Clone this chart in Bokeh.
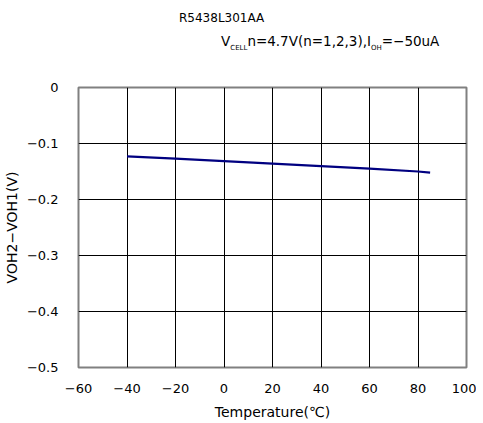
from bokeh.plotting import figure
from bokeh.models import Range1d, FixedTicker, Div
from bokeh.layouts import column
from bokeh.embed import file_html
from bokeh.resources import INLINE

# data
temperature = [-40, -20, 0, 20, 40, 60, 80, 85]
voh_diff = [-0.123, -0.127, -0.1315, -0.136, -0.1405, -0.145, -0.150, -0.152]

x_ticks = [-60, -40, -20, 0, 20, 40, 60, 80, 100]
x_tick_labels = ["−60", "−40", "−20", "0", "20", "40", "60", "80", "100"]
y_ticks = [0, -0.1, -0.2, -0.3, -0.4, -0.5]
y_tick_labels = ["0", "−0.1", "−0.2", "−0.3", "−0.4", "−0.5"]

title1 = "R5438L301AA"
FONT = "DejaVu Sans"

header = Div(
    text=(
        '<div style="position:relative;width:470px;height:60px;font-family:\'DejaVu Sans\';color:black;">'
        f'<div style="position:absolute;left:179px;top:10px;font-size:12px;line-height:16px;white-space:nowrap;">{title1}</div>'
        '<div style="position:absolute;left:221px;top:33px;font-size:13.5px;line-height:16px;white-space:nowrap;">'
        'V<sub style="font-size:7px;">CELL</sub>n=4.7V(n=1,2,3),I<sub style="font-size:7px;">OH</sub>=−50uA'
        '</div></div>'
    ),
    width=470, height=60, margin=(0, 0, 0, 0),
)

p = figure(frame_width=388, frame_height=280,
           output_backend="svg", toolbar_location=None,
           x_range=Range1d(-60, 100), y_range=Range1d(-0.5, 0),
           min_border_left=70, min_border_top=27, min_border_right=10, min_border_bottom=10,
           margin=(0, 0, 0, 0))

p.line(temperature, voh_diff, line_color="#000080", line_width=2.2)

for ax in (p.xaxis[0], p.yaxis[0]):
    ax.axis_line_color = None
    ax.major_tick_line_color = None
    ax.minor_tick_line_color = None
    ax.major_label_text_font = FONT
    ax.major_label_text_font_size = "13px"
    ax.major_label_text_color = "black"
    ax.axis_label_text_font = FONT
    ax.axis_label_text_font_size = "14px"
    ax.axis_label_text_font_style = "normal"
    ax.axis_label_text_color = "black"

p.xaxis.ticker = FixedTicker(ticks=x_ticks)
p.xaxis.major_label_overrides = {t: l for t, l in zip(x_ticks, x_tick_labels)}
p.yaxis.ticker = FixedTicker(ticks=y_ticks)
p.yaxis.major_label_overrides = {t: l for t, l in zip(y_ticks, y_tick_labels)}
p.xaxis.major_label_standoff = 10
p.yaxis.major_label_standoff = 14
p.xaxis.axis_label = "Temperature(℃)"
p.yaxis.axis_label = "VOH2−VOH1(V)"
p.xaxis.axis_label_standoff = 8
p.yaxis.axis_label_standoff = 4

p.xgrid.grid_line_color = "black"
p.ygrid.grid_line_color = "black"
p.xgrid.grid_line_width = 1
p.ygrid.grid_line_width = 1
p.outline_line_color = "#808080"
p.outline_line_width = 2
p.background_fill_color = "white"
p.border_fill_color = "white"

layout = column(header, p, spacing=0)
open("out.html", "w").write(file_html(layout, INLINE))
